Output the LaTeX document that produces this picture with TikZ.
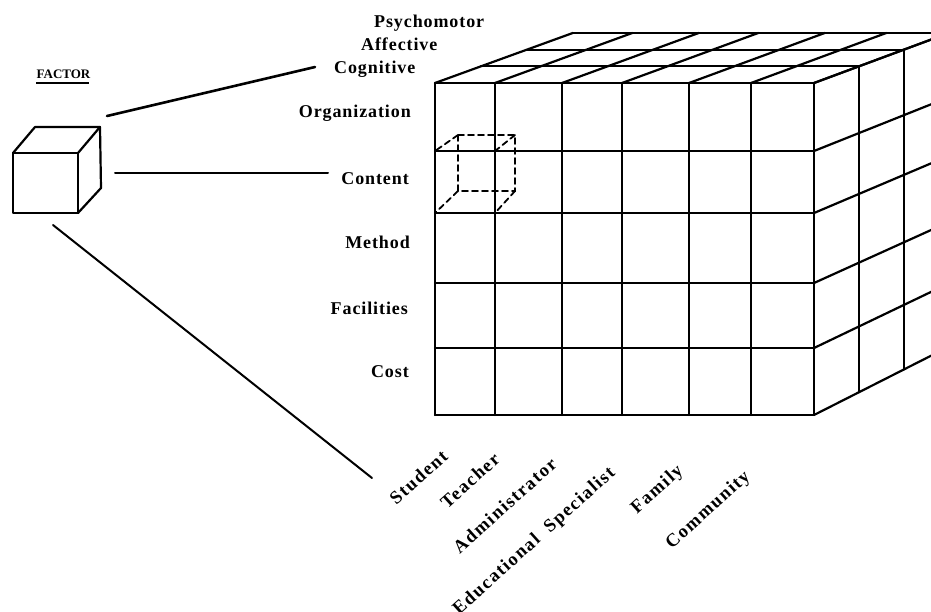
\documentclass[tikz,border=0pt]{standalone}
\usepackage{fontspec}
\setmainfont{Liberation Serif}
\newfontfamily\labfont[LetterSpace=5]{Liberation Serif}
\newfontfamily\botfont[LetterSpace=8]{Liberation Serif}
\tikzset{
  gridline/.style={line width=2.2pt, line cap=round, line join=round},
  hidden/.style={line width=1.8pt, dash pattern=on 6pt off 4pt, line cap=round},
  conn/.style={line width=2pt, line cap=round},
  lab/.style={font=\labfont\bfseries\fontsize{18}{20}\selectfont, inner sep=0pt},
  botlab/.style={font=\botfont\bfseries\fontsize{18.5}{20}\selectfont, inner sep=0pt, rotate=42, anchor=base east},
}
\begin{document}
\begin{tikzpicture}[x=1pt,y=-1pt]
\useasboundingbox[fill=white] (0,0) rectangle (931,611);

% ---- big block: front face
\foreach \x in {435,495,562,622,689,751,814}
  \draw[gridline] (\x,83) -- (\x,415);
\foreach \y in {83,151,213,283,348,415}
  \draw[gridline] (435,\y) -- (814,\y);
% top face
\foreach \k in {1,2,3}
  \draw[gridline] ({435+46*\k},{83-16.7*\k}) -- ({814+45*\k},{83-16.7*\k});
\foreach \x in {435,495,562,622,689,751,814}
  \draw[gridline] (\x,83) -- ({\x+138-(\x-435)/379*3},{83-50.1});
% right face
\foreach \y/\s in {83/16.7,151/17.95,213/19.09,283/20.37,348/21.57,415/22.8}
  \draw[gridline] (814,\y) -- ({814+135},{\y-3*\s});
\foreach \k in {1,2,3}
  \draw[gridline] ({814+45*\k},{83-16.7*\k}) -- ({814+45*\k},{415-22.8*\k});

% ---- dashed cell cube
\draw[hidden] (458,135) rectangle (515,191);
\draw[hidden] (458,135) -- (435,151);
\draw[hidden] (515,135) -- (495,151);
\draw[hidden] (515,191) -- (495,213);
\draw[hidden] (458,191) -- (435,213);

% ---- FACTOR cube
\draw[gridline] (13,153) rectangle (78,213);
\draw[gridline] (13,153) -- (35,127) -- (100,127) -- (78,153);
\draw[gridline] (100,127) -- (101,188) -- (78,213);
\node[font=\bfseries\fontsize{13}{15}\selectfont, inner sep=0pt, anchor=base] (factor) at (63.5,78) {FACTOR};
\draw[line width=1.6pt] (factor.base west) ++(0,5) -- ++(53,0);

% ---- labels
\node[lab, anchor=base west] (psy) at (374,27) {Psychomotor};
\node[lab, anchor=base west] (aff) at (361,50) {Affective};
\node[lab, anchor=base west] (cog) at (334,73) {Cognitive};
\node[lab, anchor=base east] (org) at (411,117) {Organization};
\node[lab, anchor=base east] (con) at (409,184) {Content};
\node[lab, anchor=base east] (met) at (410,248) {Method};
\node[lab, anchor=base east] (fac) at (408,314) {Facilities};
\node[lab, anchor=base east] (cos) at (409,377) {Cost};

\node[botlab] (stu) at (449,458) {Student};
\node[botlab] (tea) at (501,461) {Teacher};
\node[botlab] (adm) at (558,466) {Administrator};
\node[botlab] (edu) at (616,474) {Educational\ \ Specialist};
\node[botlab] (fam) at (684,472) {Family};
\node[botlab] (com) at (751,478) {Community};

% ---- connectors
\coordinate (a1) at (107,116);
\coordinate (b1) at (315,67);
\coordinate (a2) at (115,173);
\coordinate (b2) at (328,173);
\coordinate (a3) at (53,225);
\coordinate (b3) at (372,478);
\draw[conn, line width=2.6pt] (a1) -- (b1);
\draw[conn] (a2) -- (b2);
\draw[conn] (a3) -- (b3);
\end{tikzpicture}
\end{document}
